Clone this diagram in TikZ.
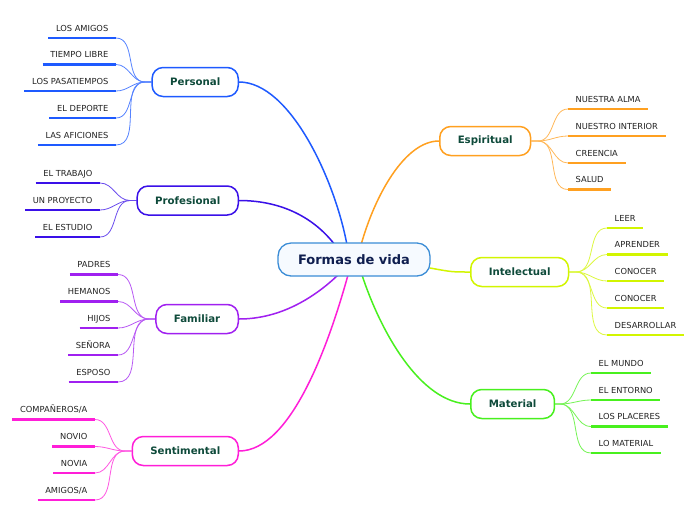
\documentclass[tikz,border=0pt]{standalone}
\usepackage{fontspec}
\setmainfont{DejaVu Sans}
\usetikzlibrary{backgrounds}
\definecolor{hubc}{HTML}{3A8CD6}
\definecolor{hubfill}{HTML}{F6FAFF}
\definecolor{hubtext}{HTML}{0F1E4F}
\definecolor{brtext}{HTML}{0E4A3A}
\definecolor{leaftext}{HTML}{222222}
\definecolor{cper}{HTML}{1E5AFF}
\definecolor{cpro}{HTML}{3A10E8}
\definecolor{cfam}{HTML}{A020F0}
\definecolor{csen}{HTML}{FF1ED8}
\definecolor{cesp}{HTML}{FFA020}
\definecolor{cint}{HTML}{D2F500}
\definecolor{cmat}{HTML}{48F01E}
\tikzset{
  hub/.style={draw=hubc, line width=1.3pt, fill=hubfill, rounded corners=13pt,
    minimum height=33pt, inner xsep=20pt, font=\fontsize{13}{15}\selectfont\bfseries, text=hubtext},
  branch/.style={draw=#1, line width=1.5pt, fill=white, rounded corners=11pt,
    minimum height=29pt, inner xsep=18pt, font=\fontsize{10.2}{12}\selectfont\bfseries, text=brtext},
  leaf/.style={inner xsep=7.5pt, inner ysep=6.6pt, text height=6pt, text depth=0pt,
    font=\fontsize{8.3}{10}\selectfont, text=leaftext},
  uline/.style={draw=#1, line width=2.6pt},
  mainlink/.style={draw=#1, line width=1.5pt},
  leaflink/.style={draw=#1!75!white, line width=0.8pt},
}
\newcommand{\leftleaf}[5]{% name, x, y, text, color
  \node[leaf, anchor=south east] (#1) at (#2,#3) {#4};
  \draw[uline=#5] (#1.south west) -- (#1.south east);}
\newcommand{\rightleaf}[5]{%
  \node[leaf, anchor=south west] (#1) at (#2,#3) {#4};
  \draw[uline=#5] (#1.south west) -- (#1.south east);}
\begin{document}
\begin{tikzpicture}[x=1pt,y=-1pt]
\useasboundingbox (0,0) rectangle (696,520);

% hub
\node[hub] (hub) at (354,259.5) {Formas de vida};

% branches
\node[branch=cper, anchor=east] (per) at (239,82) {Personal};
\node[branch=cpro, anchor=east] (pro) at (239,200.5) {Profesional};
\node[branch=cfam, anchor=east] (fam) at (239,319) {Familiar};
\node[branch=csen, anchor=east] (sen) at (239,451) {Sentimental};
\node[branch=cesp, anchor=west] (esp) at (439,141) {Espiritual};
\node[branch=cint, anchor=west] (int) at (470,272) {Intelectual};
\node[branch=cmat, anchor=west] (mat) at (470,404) {Material};

% junction coordinates
\coordinate (jper) at (145,82);
\coordinate (jpro) at (130,200.5);
\coordinate (jfam) at (149,319);
\coordinate (jsen) at (125,451);
\coordinate (jesp) at (538,141);
\coordinate (jint) at (576,272);
\coordinate (jmat) at (560,404);

% hub attach points
\coordinate (hper) at (347,245);
\coordinate (hpro) at (335,245);
\coordinate (hfam) at (338,275);
\coordinate (hsen) at (348,275);
\coordinate (hesp) at (361,245);
\coordinate (hint) at (430,268);
\coordinate (hmat) at (362,275);

% leaves: Personal
\leftleaf{p1}{116}{38}{LOS AMIGOS}{cper}
\leftleaf{p2}{116}{64.5}{TIEMPO LIBRE}{cper}
\leftleaf{p3}{116}{91}{LOS PASATIEMPOS}{cper}
\leftleaf{p4}{116}{118}{EL DEPORTE}{cper}
\leftleaf{p5}{116}{145}{LAS AFICIONES}{cper}
% Profesional
\leftleaf{r1}{100}{183}{EL TRABAJO}{cpro}
\leftleaf{r2}{100}{210}{UN PROYECTO}{cpro}
\leftleaf{r3}{100}{237}{EL ESTUDIO}{cpro}
% Familiar
\leftleaf{f1}{118}{274.5}{PADRES}{cfam}
\leftleaf{f2}{118}{301.5}{HEMANOS}{cfam}
\leftleaf{f3}{118}{328}{HIJOS}{cfam}
\leftleaf{f4}{118}{355}{SEÑORA}{cfam}
\leftleaf{f5}{118}{382}{ESPOSO}{cfam}
% Sentimental
\leftleaf{s1}{95}{419.5}{COMPAÑEROS/A}{csen}
\leftleaf{s2}{95}{446.5}{NOVIO}{csen}
\leftleaf{s3}{95}{473}{NOVIA}{csen}
\leftleaf{s4}{95}{500}{AMIGOS/A}{csen}
% Espiritual
\rightleaf{e1}{568}{109}{NUESTRA ALMA}{cesp}
\rightleaf{e2}{568}{136}{NUESTRO INTERIOR}{cesp}
\rightleaf{e3}{568}{163}{CREENCIA}{cesp}
\rightleaf{e4}{568}{189.5}{SALUD}{cesp}
% Intelectual
\rightleaf{i1}{607}{228}{LEER}{cint}
\rightleaf{i2}{607}{254.5}{APRENDER}{cint}
\rightleaf{i3}{607}{281}{CONOCER}{cint}
\rightleaf{i4}{607}{308}{CONOCER}{cint}
\rightleaf{i5}{607}{335}{DESARROLLAR}{cint}
% Material
\rightleaf{m1}{591}{373}{EL MUNDO}{cmat}
\rightleaf{m2}{591}{400}{EL ENTORNO}{cmat}
\rightleaf{m3}{591}{426.5}{LOS PLACERES}{cmat}
\rightleaf{m4}{591}{453}{LO MATERIAL}{cmat}

\begin{scope}[on background layer]
\fill[white] (0,0) rectangle (696,520);
% main links
\draw[mainlink=cper] (per.east) .. controls (290,82) and (335,180) .. (hper);
\draw[mainlink=cpro] (pro.east) .. controls (278,200.5) and (312,215) .. (hpro);
\draw[mainlink=cfam] (fam.east) .. controls (282,319) and (316,296) .. (hfam);
\draw[mainlink=csen] (sen.east) .. controls (292,451) and (330,340) .. (hsen);
\draw[mainlink=cesp] (esp.west) .. controls (405,141) and (375,195) .. (hesp);
\draw[mainlink=cint] (int.west) .. controls (452,272) .. (hint);
\draw[mainlink=cmat] (mat.west) .. controls (420,404) and (380,330) .. (hmat);
% leaf links
\foreach \n in {p1,p2,p3,p4,p5}
  \draw[leaflink=cper] (\n.south east) to[out=0,in=180] (jper) -- (per.west);
\foreach \n in {r1,r2,r3}
  \draw[leaflink=cpro] (\n.south east) to[out=0,in=180] (jpro) -- (pro.west);
\foreach \n in {f1,f2,f3,f4,f5}
  \draw[leaflink=cfam] (\n.south east) to[out=0,in=180] (jfam) -- (fam.west);
\foreach \n in {s1,s2,s3,s4}
  \draw[leaflink=csen] (\n.south east) to[out=0,in=180] (jsen) -- (sen.west);
\foreach \n in {e1,e2,e3,e4}
  \draw[leaflink=cesp] (esp.east) -- (jesp) to[out=0,in=180] (\n.south west);
\foreach \n in {i1,i2,i3,i4,i5}
  \draw[leaflink=cint] (int.east) -- (jint) to[out=0,in=180] (\n.south west);
\foreach \n in {m1,m2,m3,m4}
  \draw[leaflink=cmat] (mat.east) -- (jmat) to[out=0,in=180] (\n.south west);
\end{scope}
\end{tikzpicture}
\end{document}
